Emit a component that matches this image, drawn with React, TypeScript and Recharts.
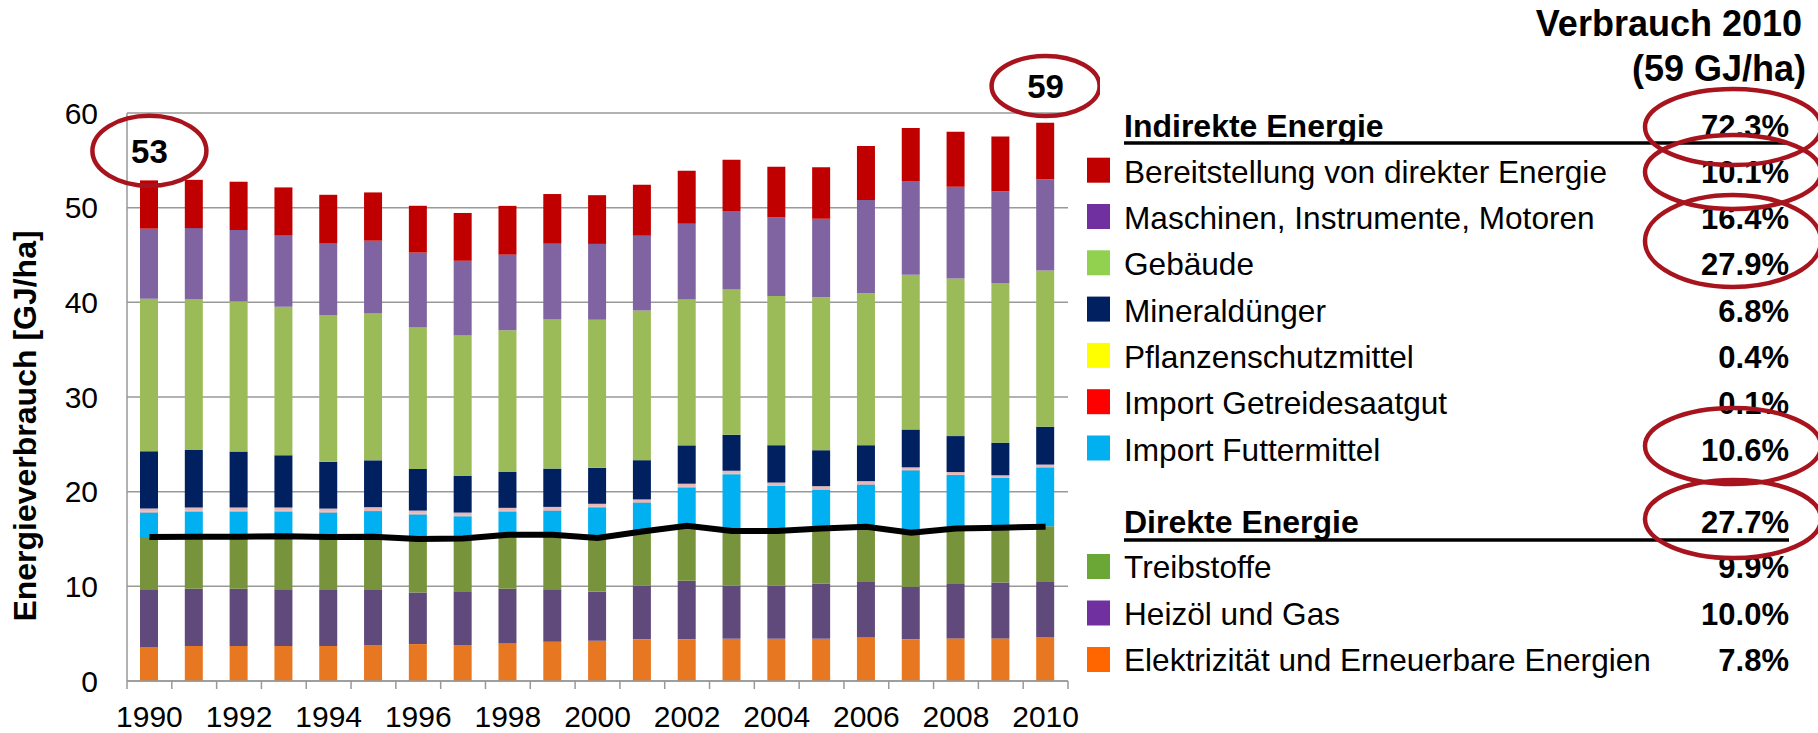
import {
  Bar,
  CartesianGrid,
  ComposedChart,
  Line,
  ReferenceDot,
  XAxis,
  YAxis,
} from "recharts";

// categories
const years = [
  "1990", "1991", "1992", "1993", "1994", "1995", "1996", "1997", "1998", "1999", "2000",
  "2001", "2002", "2003", "2004", "2005", "2006", "2007", "2008", "2009", "2010",
];

// stacked segments, bottom to top (GJ/ha)
const elektrizitaet = [3.6, 3.7, 3.7, 3.7, 3.7, 3.8, 3.9, 3.8, 4.0, 4.15, 4.25, 4.4, 4.4, 4.45, 4.45, 4.45, 4.6, 4.4, 4.5, 4.5, 4.65];
const heizoel = [6.1, 6.05, 6.05, 6.0, 5.9, 5.8, 5.45, 5.6, 5.75, 5.55, 5.2, 5.7, 6.2, 5.6, 5.6, 5.85, 5.85, 5.55, 5.75, 5.9, 5.8];
const treibstoffe = [5.5, 5.45, 5.45, 5.6, 5.6, 5.65, 5.65, 5.6, 5.75, 5.75, 5.75, 5.75, 5.8, 5.8, 5.8, 5.8, 5.85, 5.7, 5.75, 5.8, 5.9];
const futtermittel = [2.6, 2.7, 2.7, 2.6, 2.6, 2.7, 2.6, 2.4, 2.4, 2.55, 3.15, 3.0, 4.05, 6.0, 4.75, 4.1, 4.45, 6.6, 5.75, 5.25, 6.2];
const saatgut = [0.08, 0.08, 0.08, 0.08, 0.08, 0.08, 0.07, 0.07, 0.07, 0.07, 0.07, 0.06, 0.06, 0.06, 0.06, 0.06, 0.06, 0.06, 0.06, 0.06, 0.06];
const pflanzenschutz = [0.35, 0.36, 0.36, 0.36, 0.33, 0.33, 0.33, 0.32, 0.32, 0.32, 0.3, 0.27, 0.33, 0.3, 0.3, 0.32, 0.3, 0.26, 0.26, 0.22, 0.25];
const mineralduenger = [6.05, 6.05, 5.9, 5.5, 4.95, 4.95, 4.4, 3.9, 3.8, 4.05, 3.8, 4.15, 4.05, 3.8, 3.95, 3.8, 3.8, 4.0, 3.8, 3.45, 4.0];
const gebaeude = [16.1, 15.95, 15.85, 15.7, 15.5, 15.5, 14.95, 14.8, 14.95, 15.75, 15.65, 15.8, 15.4, 15.35, 15.75, 16.15, 16.05, 16.35, 16.65, 16.85, 16.5];
const maschinen = [7.4, 7.5, 7.55, 7.5, 7.6, 7.7, 7.9, 7.9, 8.0, 8.0, 8.0, 7.9, 8.0, 8.3, 8.3, 8.3, 9.85, 9.9, 9.7, 9.7, 9.65];
const bereitstellung = [5.1, 5.1, 5.1, 5.1, 5.1, 5.1, 4.95, 5.05, 5.15, 5.25, 5.15, 5.4, 5.6, 5.4, 5.35, 5.45, 5.7, 5.6, 5.8, 5.8, 5.95];

// black line: direct energy total
const direkt = [15.2, 15.25, 15.25, 15.3, 15.2, 15.25, 15.0, 15.05, 15.45, 15.45, 15.1, 15.8, 16.4, 15.85, 15.85, 16.1, 16.3, 15.65, 16.1, 16.2, 16.3];

const yTicks = [0, 10, 20, 30, 40, 50, 60];

// callouts on the chart
const callouts = [
  { year: "1990", value: 56.0, text: "53", rx: 57, ry: 35 },
  { year: "2010", value: 62.85, text: "59", rx: 54, ry: 30 },
];

// legend table
const indirectLabels = [
  "Bereitstellung von direkter Energie",
  "Maschinen, Instrumente, Motoren",
  "Gebäude",
  "Mineraldünger",
  "Pflanzenschutzmittel",
  "Import Getreidesaatgut",
  "Import Futtermittel",
];
const indirectColors = ["#C00000", "#7030A0", "#92D050", "#002060", "#FFFF00", "#FF0000", "#00B0F0"];
const indirectShares = ["10.1%", "16.4%", "27.9%", "6.8%", "0.4%", "0.1%", "10.6%"];
const directLabels = ["Treibstoffe", "Heizöl und Gas", "Elektrizität und Erneuerbare Energien"];
const directColors = ["#6AA737", "#7030A0", "#FF6600"];
const directShares = ["9.9%", "10.0%", "7.8%"];

const data = years.map((year, i) => ({
  year,
  elektrizitaet: elektrizitaet[i],
  heizoel: heizoel[i],
  treibstoffe: treibstoffe[i],
  futtermittel: futtermittel[i],
  saatgut: saatgut[i],
  pflanzenschutz: pflanzenschutz[i],
  mineralduenger: mineralduenger[i],
  gebaeude: gebaeude[i],
  maschinen: maschinen[i],
  bereitstellung: bereitstellung[i],
  direkt: direkt[i],
}));

const FONT = "'Liberation Sans', Arial, sans-serif";
const CHART_W = 1100;
const MARGIN = { top: 113, right: 32, bottom: 0, left: 0 };
const Y_AXIS_W = 127;
const PLOT_W = CHART_W - MARGIN.left - MARGIN.right - Y_AXIS_W;
const GRID = "#999999";
const RING = "#A8141E";

// Excel-style tick marks between categories, label every second year
function YearTick(props: any) {
  const { x, y, payload, index } = props;
  const band = PLOT_W / years.length;
  const top = y - 25;
  return (
    <g>
      <line x1={x - band / 2} x2={x - band / 2} y1={top} y2={top + 8} stroke={GRID} strokeWidth={1.5} />
      {index === years.length - 1 && (
        <line x1={x + band / 2} x2={x + band / 2} y1={top} y2={top + 8} stroke={GRID} strokeWidth={1.5} />
      )}
      {index % 2 === 0 && (
        <text x={x} y={y} dy={21} textAnchor="middle" fontSize={30} fill="#000" fontFamily={FONT}>
          {payload.value}
        </text>
      )}
    </g>
  );
}

function Callout(text: string, rx: number, ry: number) {
  return (props: any) => (
    <g>
      <ellipse cx={props.cx} cy={props.cy} rx={rx} ry={ry} fill="none" stroke={RING} strokeWidth={4.5} />
      <text x={props.cx} y={props.cy} dy={12} textAnchor="middle" fontSize={33} fontWeight="bold" fontFamily={FONT} fill="#000">
        {text}
      </text>
    </g>
  );
}

function LegendTable() {
  const swatchX = 1087;
  const textX = 1124;
  const pctX = 1789;
  const labelSize = 31.6;
  const indirectY = indirectLabels.map((_, i) => 182.7 + i * 46.3);
  const directY = directLabels.map((_, i) => 578 + i * 46.5);
  return (
    <svg width={1818} height={733} style={{ position: "absolute", left: 0, top: 0, pointerEvents: "none" }} fontFamily={FONT}>
      <text x={1802} y={36} textAnchor="end" fontSize={36} fontWeight="bold">Verbrauch 2010</text>
      <text x={1806} y={81} textAnchor="end" fontSize={36} fontWeight="bold">(59 GJ/ha)</text>

      <text x={textX} y={137} fontSize={32} fontWeight="bold">Indirekte Energie</text>
      <text x={pctX} y={137} textAnchor="end" fontSize={31} fontWeight="bold">72.3%</text>
      <line x1={textX} x2={pctX} y1={143} y2={143} stroke="#000" strokeWidth={3.3} />
      {indirectLabels.map((label, i) => (
        <g key={label}>
          <rect x={swatchX} y={indirectY[i] - 25} width={23} height={25} fill={indirectColors[i]} />
          <text x={textX} y={indirectY[i]} fontSize={labelSize}>{label}</text>
          <text x={pctX} y={indirectY[i]} textAnchor="end" fontSize={31} fontWeight="bold">{indirectShares[i]}</text>
        </g>
      ))}

      <text x={textX} y={533} fontSize={32} fontWeight="bold">Direkte Energie</text>
      <text x={pctX} y={533} textAnchor="end" fontSize={31} fontWeight="bold">27.7%</text>
      <line x1={textX} x2={pctX} y1={540} y2={540} stroke="#000" strokeWidth={3.3} />
      {directLabels.map((label, i) => (
        <g key={label}>
          <rect x={swatchX} y={directY[i] - 24} width={23} height={25} fill={directColors[i]} />
          <text x={textX} y={directY[i]} fontSize={labelSize}>{label}</text>
          <text x={pctX} y={directY[i]} textAnchor="end" fontSize={31} fontWeight="bold">{directShares[i]}</text>
        </g>
      ))}

      {/* highlight rings around shares */}
      <ellipse cx={1733} cy={127} rx={88} ry={38} fill="none" stroke={RING} strokeWidth={4.5} />
      <ellipse cx={1733} cy={172} rx={88} ry={37} fill="none" stroke={RING} strokeWidth={4.5} />
      <ellipse cx={1733} cy={241} rx={88} ry={46} fill="none" stroke={RING} strokeWidth={4.5} />
      <ellipse cx={1733} cy={446} rx={88} ry={38} fill="none" stroke={RING} strokeWidth={4.5} />
      <ellipse cx={1733} cy={519} rx={88} ry={39} fill="none" stroke={RING} strokeWidth={4.5} />

      <text
        transform="translate(36,426) rotate(-90)"
        textAnchor="middle"
        fontSize={32}
        fontWeight="bold"
      >
        Energieverbrauch [GJ/ha]
      </text>
    </svg>
  );
}

export default function App() {
  return (
    <div style={{ position: "absolute", left: 0, top: 0, width: 1818, height: 733, background: "#fff", fontFamily: FONT }}>
      <ComposedChart width={CHART_W} height={733} data={data} margin={MARGIN} barSize={18}>
        <CartesianGrid vertical={false} stroke={GRID} strokeWidth={1.5} />
        <XAxis
          dataKey="year"
          interval={0}
          height={52}
          tickLine={false}
          tickSize={8}
          tickMargin={17}
          axisLine={{ stroke: GRID, strokeWidth: 1.5 }}
          tick={<YearTick />}
        />
        <YAxis
          width={Y_AXIS_W}
          domain={[0, 60]}
          ticks={yTicks}
          tickLine={false}
          tickSize={6}
          tickMargin={23}
          axisLine={{ stroke: GRID, strokeWidth: 1.5 }}
          tick={{ fontSize: 30, fill: "#000", fontFamily: FONT }}
        />
        <YAxis
          yAxisId="frame"
          orientation="right"
          width={0}
          tick={false}
          tickLine={false}
          axisLine={{ stroke: GRID, strokeWidth: 1.5 }}
        />
        <Bar dataKey="elektrizitaet" stackId="a" fill="#E87722" isAnimationActive={false} />
        <Bar dataKey="heizoel" stackId="a" fill="#604A7B" isAnimationActive={false} />
        <Bar dataKey="treibstoffe" stackId="a" fill="#77933C" isAnimationActive={false} />
        <Bar dataKey="futtermittel" stackId="a" fill="#00B0F0" isAnimationActive={false} />
        <Bar dataKey="saatgut" stackId="a" fill="#D99694" isAnimationActive={false} />
        <Bar dataKey="pflanzenschutz" stackId="a" fill="#E6B9B8" isAnimationActive={false} />
        <Bar dataKey="mineralduenger" stackId="a" fill="#002060" isAnimationActive={false} />
        <Bar dataKey="gebaeude" stackId="a" fill="#9BBB59" isAnimationActive={false} />
        <Bar dataKey="maschinen" stackId="a" fill="#8064A2" isAnimationActive={false} />
        <Bar dataKey="bereitstellung" stackId="a" fill="#C00000" isAnimationActive={false} />
        <Line
          dataKey="direkt"
          type="linear"
          stroke="#000"
          strokeWidth={6}
          dot={false}
          isAnimationActive={false}
        />
        {callouts.map((c) => (
          <ReferenceDot
            key={c.year}
            x={c.year}
            y={c.value}
            ifOverflow="visible"
            shape={Callout(c.text, c.rx, c.ry)}
          />
        ))}
      </ComposedChart>
      <LegendTable />
    </div>
  );
}
